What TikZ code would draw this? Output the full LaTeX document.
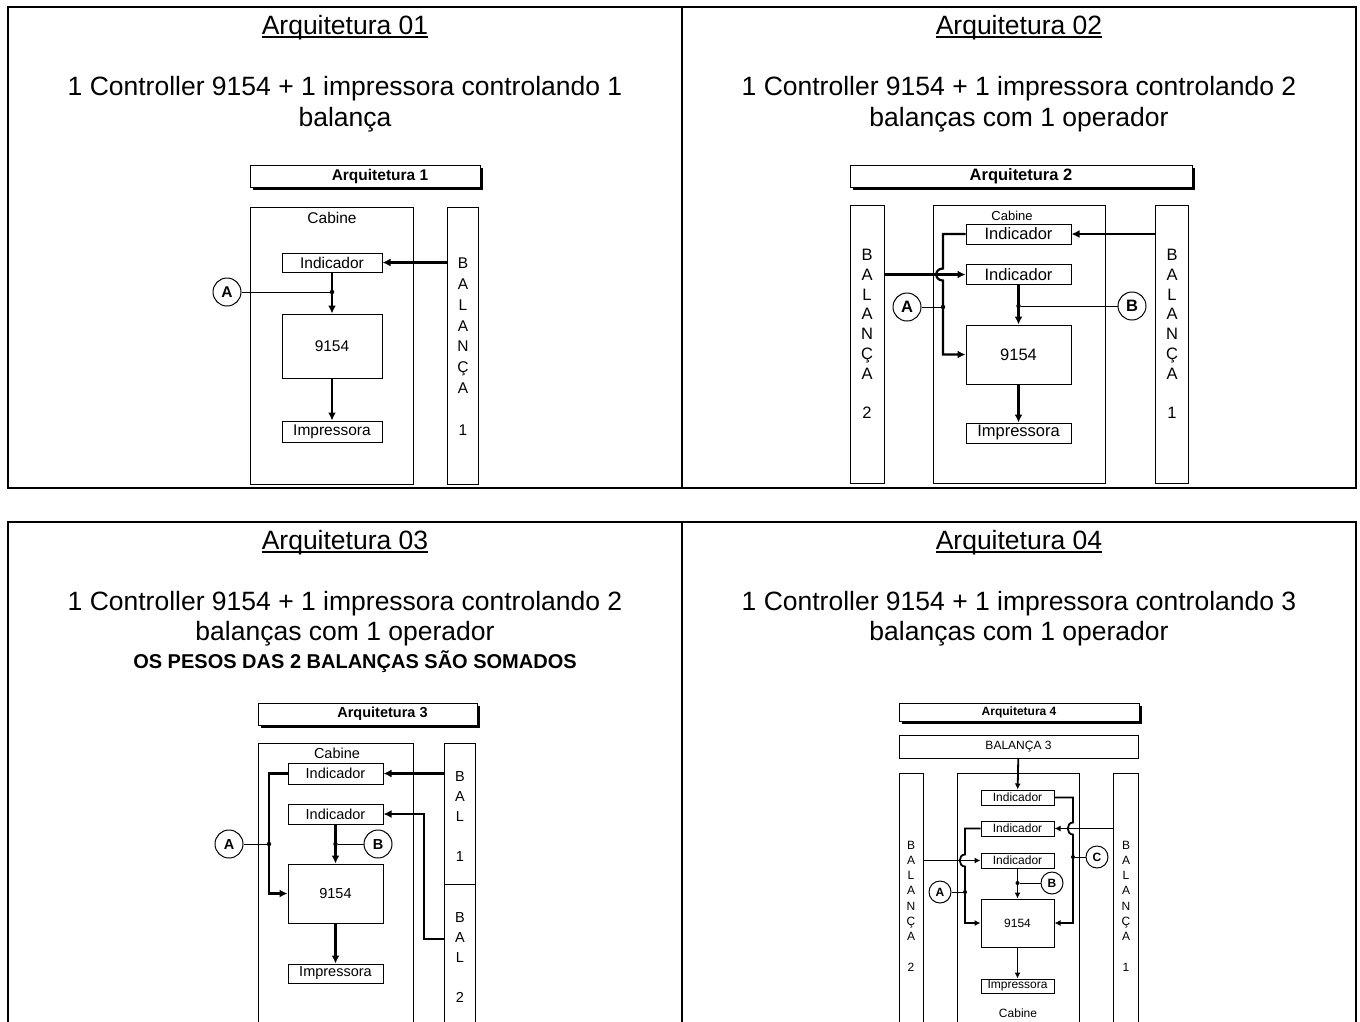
\documentclass[tikz,border=0pt]{standalone}
\usepackage{fontspec}
\setmainfont{Liberation Sans}
\usetikzlibrary{positioning,arrows.meta,shadows}
\newcommand{\ulin}[1]{\setbox0\hbox{#1}\rlap{\vrule width\wd0 height -1.9pt depth 3.8pt}\box0}
\begin{document}
\begin{tikzpicture}[x=1pt, y=-1pt,
    boxnode/.style={draw, line width=1pt, fill=white, inner sep=0pt},
    colnode/.style={draw, line width=1pt, inner sep=0pt},
    roundnode/.style={circle, draw, line width=1pt, inner sep=0pt, minimum size=28pt, execute at begin node=\bfseries},
    dotnode/.style={circle, fill=black, inner sep=0pt, minimum size=4.5pt},
    titlenode/.style={draw, line width=1pt, fill=white, inner sep=0pt, execute at begin node=\bfseries,
      drop shadow={shadow xshift=3pt, shadow yshift=-3pt, fill=black, opacity=1}},
    flow/.style={line width=2.2pt, -{Latex[length=8pt,width=8pt]}},
    wire/.style={line width=1pt},
    tableline/.style={line width=2pt},
    bigtext/.style={font=\fontsize{26.5}{31}\selectfont, anchor=base}]
    \path[use as bounding box, fill=white] (0,0) rectangle (1360,1021);
    % Tables
    \draw[tableline] (8,7) rectangle (1356,488);
    \draw[tableline] (682,7) -- (682,488);
    \draw[tableline] (8,1030) |- (1356,522) -- (1356,1030);
    \draw[tableline] (682,522) -- (682,1030);
    % Headings
    \node[bigtext] (h1)  at (345,34)     {\ulin{Arquitetura 01}};
    \node[bigtext] (d1a) at (345,95.5)   {1 Controller 9154 + 1 impressora controlando 1};
    \node[bigtext] (d1b) at (345,126.5)  {balança};
    \node[bigtext] (h2)  at (1019,34)    {\ulin{Arquitetura 02}};
    \node[bigtext] (d2a) at (1019,95.5)  {1 Controller 9154 + 1 impressora controlando 2};
    \node[bigtext] (d2b) at (1019,126.5) {balanças com 1 operador};
    \node[bigtext] (h3)  at (345,549.5)  {\ulin{Arquitetura 03}};
    \node[bigtext] (d3a) at (345,610.5)  {1 Controller 9154 + 1 impressora controlando 2};
    \node[bigtext] (d3b) at (345,640.5)  {balanças com 1 operador};
    \node[bigtext, font=\fontsize{20}{24}\selectfont\bfseries] (d3c) at (355,668) {OS PESOS DAS 2 BALANÇAS SÃO SOMADOS};
    \node[bigtext] (h4)  at (1019,549.5) {\ulin{Arquitetura 04}};
    \node[bigtext] (d4a) at (1019,610.5) {1 Controller 9154 + 1 impressora controlando 3};
    \node[bigtext] (d4b) at (1019,640.5) {balanças com 1 operador};

    % Arquitetura 1
    \begin{scope}[font=\fontsize{15.5}{20.8}\selectfont]
      % Place nodes
      \node[titlenode, minimum width=230pt, minimum height=22pt] (t1) at (365,176) {\hspace*{30pt}Arquitetura 1};
      \node[colnode, minimum width=163pt, minimum height=277pt] (cab1) at (331.5,345.5) {};
      \node (cabtxt1) at (332,218) {Cabine};
      \node[colnode, minimum width=31pt, minimum height=277pt] (bal1) at (462.5,345.5) {};
      \node[align=center] (baltxt1) at (463,346.5) {B\\A\\L\\A\\N\\Ç\\A\\[20.8pt]1};
      \node[boxnode, minimum width=100pt, minimum height=19pt] (ind1) at (332,262.5) {Indicador};
      \node[boxnode, minimum width=100pt, minimum height=64pt] (ctl1) at (332,346)   {9154};
      \node[boxnode, minimum width=100pt, minimum height=21pt] (imp1) at (332,431.5) {Impressora};
      \node[roundnode] (ca1) at (227,292) {A};
      \node[dotnode]   (ja1) at (ind1 |- ca1) {};
      % Create edges
      \draw[flow] (bal1.west |- ind1.east) -- (ind1.east);
      \draw[flow] (ind1) -- (ctl1);
      \draw[flow] (ctl1) -- (imp1);
      \draw[wire] (ca1) -- (ja1);
    \end{scope}

    % Arquitetura 2
    \begin{scope}[font=\fontsize{16.5}{19.75}\selectfont]
      % Place nodes
      \node[titlenode, minimum width=342pt, minimum height=22pt] (t2) at (1021,176) {Arquitetura 2};
      \node[colnode, minimum width=34pt, minimum height=278pt] (bal2b) at (867,344) {};
      \node[align=center] (baltxt2b) at (867,334) {B\\A\\L\\A\\N\\Ç\\A\\[19.75pt]2};
      \node[colnode, minimum width=172pt, minimum height=278pt] (cab2) at (1019,344) {};
      \node[font=\fontsize{13}{15}\selectfont] (cabtxt2) at (1012,216) {Cabine};
      \node[colnode, minimum width=33pt, minimum height=278pt] (bal2a) at (1171.5,344) {};
      \node[align=center] (baltxt2a) at (1172,334) {B\\A\\L\\A\\N\\Ç\\A\\[19.75pt]1};
      \node[boxnode, minimum width=105pt, minimum height=20pt] (ind2a) at (1018.5,234)   {Indicador};
      \node[boxnode, minimum width=105pt, minimum height=20pt] (ind2b) at (1018.5,274.5) {Indicador};
      \node[boxnode, minimum width=105pt, minimum height=59pt] (ctl2)  at (1018.5,354.5) {9154};
      \node[boxnode, minimum width=105pt, minimum height=20pt] (imp2)  at (1018.5,433)   {Impressora};
      \node[roundnode] (ca2) at (907,307)  {A};
      \node[roundnode] (cb2) at (1132,306) {B};
      \node[dotnode]   (ja2) at (943,307)  {};
      \node[dotnode]   (jb2) at (ind2b |- cb2) {};
      % Create edges
      \draw[flow] (bal2a.west |- ind2a.east) -- (ind2a.east);
      \draw[flow] (bal2b.east |- ind2b.west) -- (ind2b.west);
      \draw[flow] (ind2a.west) -- (943,234) -- (943,268.5)
        .. controls (934,268.5) and (934,280.5) .. (943,280.5) |- (ctl2.west);
      \draw[flow] (ind2b) -- (ctl2);
      \draw[flow] (ctl2) -- (imp2);
      \draw[wire] (ca2) -- (ja2);
      \draw[wire] (cb2) -- (jb2);
    \end{scope}

    % Arquitetura 3
    \begin{scope}[font=\fontsize{14.5}{20}\selectfont]
      % Place nodes
      \node[titlenode, minimum width=219pt, minimum height=22pt] (t3) at (367.5,714) {\hspace*{30pt}Arquitetura 3};
      \node[colnode, minimum width=155pt, minimum height=287pt] (cab3) at (335.5,886.5) {};
      \node (cabtxt3) at (337,753) {Cabine};
      \node[colnode, minimum width=31pt, minimum height=141pt] (bal3a) at (459.5,813.5) {};
      \node[colnode, minimum width=31pt, minimum height=146pt] (bal3b) at (459.5,957) {};
      \node[align=center] (baltxt3a) at (460,816.5) {B\\A\\L\\[20pt]1};
      \node[align=center] (baltxt3b) at (460,957)   {B\\A\\L\\[20pt]2};
      \node[boxnode, minimum width=95pt, minimum height=21pt] (ind3a) at (335.5,773.5) {Indicador};
      \node[boxnode, minimum width=95pt, minimum height=20pt] (ind3b) at (335.5,814)   {Indicador};
      \node[boxnode, minimum width=95pt, minimum height=59pt] (ctl3)  at (335.5,893.5) {9154};
      \node[boxnode, minimum width=95pt, minimum height=19pt] (imp3)  at (335.5,973.5) {Impressora};
      \node[roundnode] (ca3) at (229,844) {A};
      \node[roundnode] (cb3) at (378,844) {B};
      \node[dotnode]   (ja3) at (269,844) {};
      \node[dotnode]   (jb3) at (ind3b |- cb3) {};
      % Create edges
      \draw[flow] (bal3a.west |- ind3a.east) -- (ind3a.east);
      \draw[flow] ([yshift=18pt]bal3b.west) -- (424,939) |- (ind3b.east);
      \draw[flow] (ind3a.west) -- (269,773.5) |- (ctl3.west);
      \draw[flow] (ind3b) -- (ctl3);
      \draw[flow] (ctl3) -- (imp3);
      \draw[wire] (ca3) -- (ja3);
      \draw[wire] (cb3) -- (jb3);
    \end{scope}

    % Arquitetura 4
    \begin{scope}[font=\fontsize{12}{15.25}\selectfont,
        flow/.style={line width=1.8pt, -{Latex[length=6pt,width=6pt]}},
        roundnode/.append style={minimum size=22pt}]
      % Place nodes
      \node[titlenode, minimum width=240pt, minimum height=18pt,
        drop shadow={shadow xshift=2.5pt, shadow yshift=-2.5pt, fill=black, opacity=1}] (t4) at (1019,712) {Arquitetura 4};
      \node[colnode, minimum width=239pt, minimum height=23pt] (bal4c) at (1018.5,746.5) {BALANÇA 3};
      \node[colnode, minimum width=24pt, minimum height=257pt] (bal4b) at (911,901.5) {};
      \node[align=center] (baltxt4b) at (911,906) {B\\A\\L\\A\\N\\Ç\\A\\[15.25pt]2};
      \node[colnode, minimum width=122pt, minimum height=257pt] (cab4) at (1018,901.5) {};
      \node (cabtxt4) at (1018,1013) {Cabine};
      \node[colnode, minimum width=25pt, minimum height=257pt] (bal4a) at (1125.5,901.5) {};
      \node[align=center] (baltxt4a) at (1126,906) {B\\A\\L\\A\\N\\Ç\\A\\[15.25pt]1};
      \node[boxnode, minimum width=73pt, minimum height=15pt] (ind4a) at (1017.5,797.5) {Indicador};
      \node[boxnode, minimum width=73pt, minimum height=15pt] (ind4b) at (1017.5,828.5) {Indicador};
      \node[boxnode, minimum width=73pt, minimum height=15pt] (ind4c) at (1017.5,860.5) {Indicador};
      \node[boxnode, minimum width=73pt, minimum height=48pt] (ctl4)  at (1017.5,923)   {9154};
      \node[boxnode, minimum width=73pt, minimum height=14pt] (imp4)  at (1017.5,986)   {Impressora};
      \node[roundnode] (ca4) at (940,892)  {A};
      \node[roundnode] (cb4) at (1052,883) {B};
      \node[roundnode] (cc4) at (1097,857) {C};
      \node[dotnode, minimum size=4pt] (ja4) at (965,892)  {};
      \node[dotnode, minimum size=4pt] (jb4) at (ind4c |- cb4) {};
      \node[dotnode, minimum size=4pt] (jc4) at (1073,857) {};
      % Create edges
      \draw[flow] (bal4c) -- (ind4a);
      \draw[flow] (ind4a.east) -- (1073,797.5) -- (1073,822.5)
        .. controls (1066,822.5) and (1066,834.5) .. (1073,834.5) |- (ctl4.east);
      \draw[flow] (bal4a.west |- ind4b.east) -- (ind4b.east);
      \draw[flow] (ind4b.west) -- (965,828.5) -- (965,854.5)
        .. controls (958,854.5) and (958,866.5) .. (965,866.5) |- (ctl4.west);
      \draw[flow] (bal4b.east |- ind4c.west) -- (ind4c.west);
      \draw[flow] (ind4c) -- (ctl4);
      \draw[flow] (ctl4) -- (imp4);
      \draw[wire] (ca4) -- (ja4);
      \draw[wire] (cb4) -- (jb4);
      \draw[wire] (cc4) -- (jc4);
    \end{scope}
\end{tikzpicture}
\end{document}
